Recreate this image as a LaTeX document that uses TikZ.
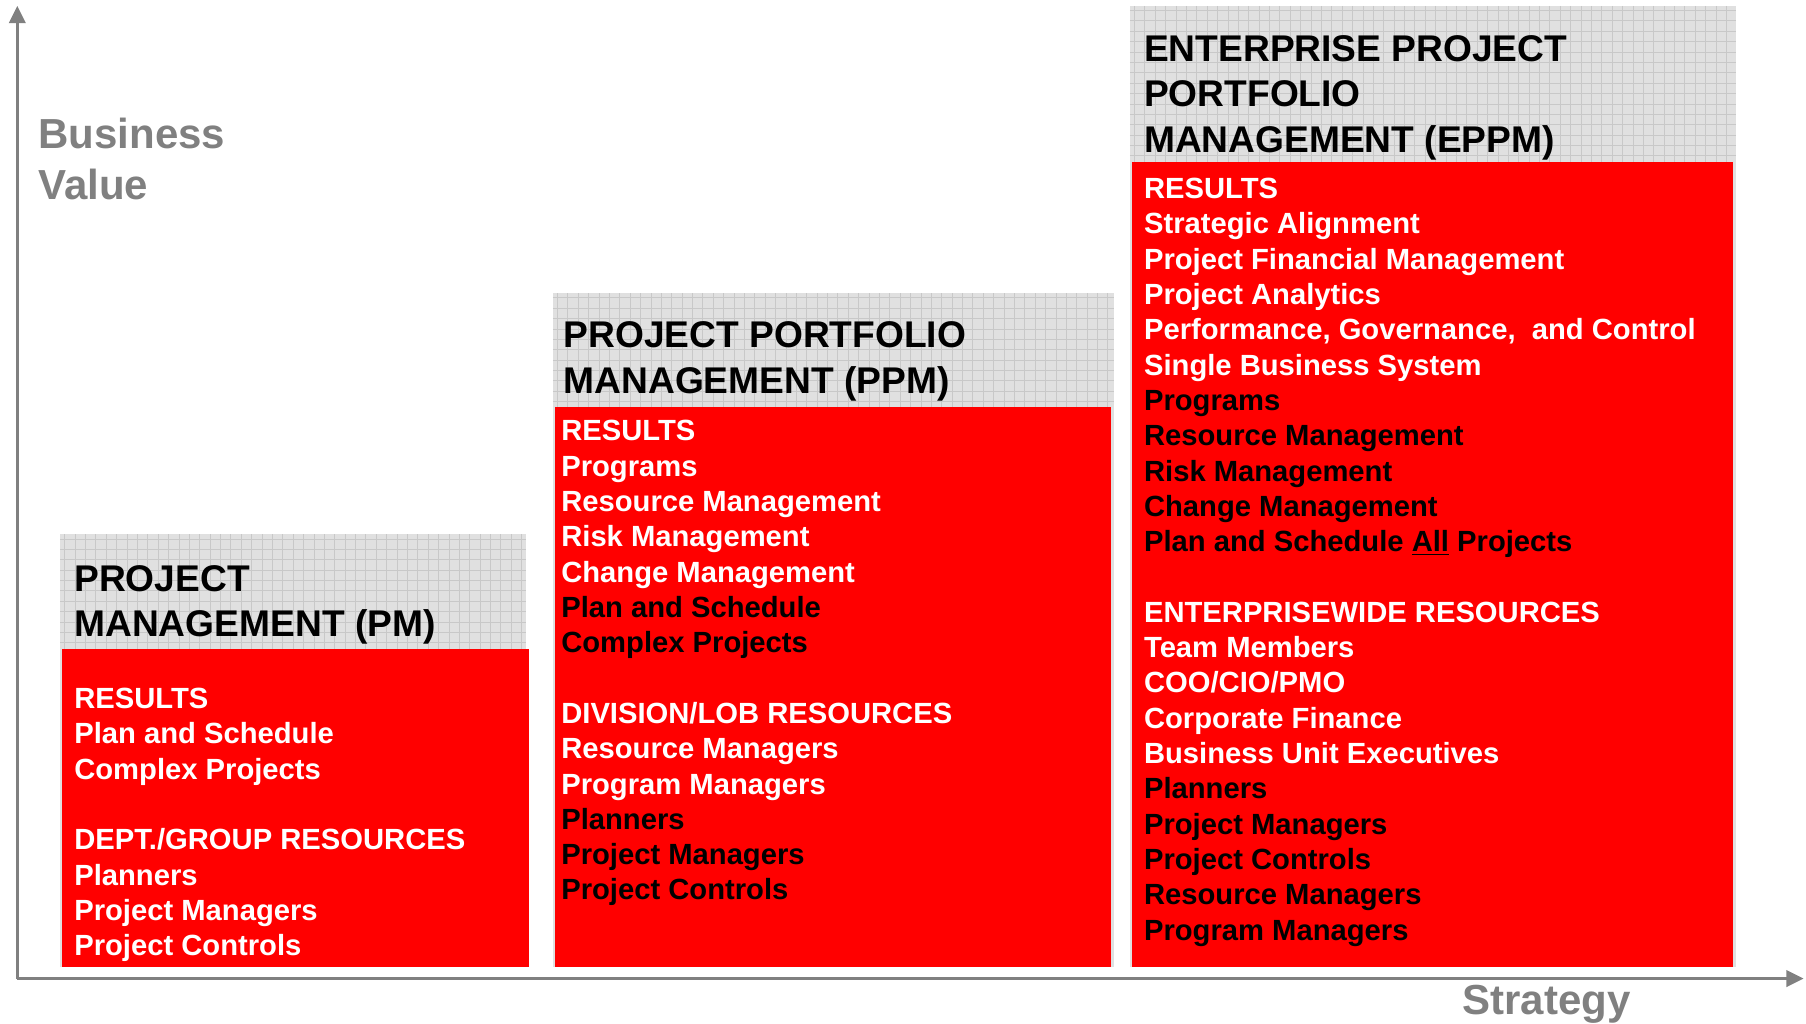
\documentclass[tikz,border=0pt]{standalone}
\usepackage{fontspec}
\setmainfont{Liberation Sans}
\usetikzlibrary{arrows.meta}

\definecolor{axisgray}{HTML}{808080}
\definecolor{hdrgray}{HTML}{E0E0E0}
\definecolor{gridgray}{HTML}{C8C8C8}
\definecolor{boxred}{HTML}{FF0000}

\newcommand{\carried}[1]{\textcolor{black}{#1}}

\tikzset{
  headtext/.style={anchor=north west, inner sep=0pt, align=left,
    font=\fontsize{16.1}{19.65}\selectfont\bfseries},
  itemtext/.style={anchor=north west, inner sep=0pt, align=left, text=white,
    font=\fontsize{12.65}{15.3}\selectfont\bfseries},
  axislabel/.style={inner sep=0pt, align=left, text=axisgray,
    font=\fontsize{18.2}{22}\selectfont\bfseries},
  axisline/.style={axisgray, line width=1.5pt, -{Triangle[length=7.5pt,width=7pt]}}
}

\begin{document}
\begin{tikzpicture}[x=0.5pt, y=-0.5pt]
	\useasboundingbox (0,0) rectangle (1565,886.5);

	% gray columns with a fine grid
	\fill[hdrgray] (52,463) rectangle (456,838);
	\fill[hdrgray] (479,254) rectangle (965,838);
	\fill[hdrgray] (979,5) rectangle (1504,838);
	\foreach \x in {56,65,...,452} \draw[gridgray, line width=0.3pt] (\x,463) -- (\x,562);
	\foreach \y in {467,476,...,560} \draw[gridgray, line width=0.3pt] (52,\y) -- (456,\y);
	\foreach \x in {483,492,...,961} \draw[gridgray, line width=0.3pt] (\x,254) -- (\x,353);
	\foreach \y in {258,267,...,351} \draw[gridgray, line width=0.3pt] (479,\y) -- (965,\y);
	\foreach \x in {983,992,...,1500} \draw[gridgray, line width=0.3pt] (\x,5) -- (\x,140);
	\foreach \y in {9,18,...,138} \draw[gridgray, line width=0.3pt] (979,\y) -- (1504,\y);

	% red result boxes
	\fill[boxred] (54,562) rectangle (458,838);
	\fill[boxred] (481,353) rectangle (963,838);
	\fill[boxred] (981,140) rectangle (1502,838);

	% headings
	\node[headtext] (pmhead) at (64,489.5) {PROJECT\\MANAGEMENT (PM)};
	\node[headtext] (ppmhead) at (488,278.5) {PROJECT PORTFOLIO\\MANAGEMENT (PPM)};
	\node[headtext] (eppmhead) at (991,30.5) {ENTERPRISE PROJECT\\PORTFOLIO\\MANAGEMENT (EPPM)};

	% results and resources
	\node[itemtext] (pmlist) at (64,596) {RESULTS\\Plan and Schedule\\Complex Projects\\[15.3pt]
		DEPT./GROUP RESOURCES\\Planners\\Project Managers\\Project Controls};
	\node[itemtext] (ppmlist) at (486,364) {RESULTS\\Programs\\Resource Management\\Risk Management\\Change Management\\
		\carried{Plan and Schedule}\\\carried{Complex Projects}\\[15.3pt]
		DIVISION/LOB RESOURCES\\Resource Managers\\Program Managers\\
		\carried{Planners}\\\carried{Project Managers}\\\carried{Project Controls}};
	\node[itemtext] (eppmlist) at (991,154) {RESULTS\\Strategic Alignment\\Project Financial Management\\Project Analytics\\
		Performance, Governance,\ \ and Control\\Single Business System\\
		\carried{Programs}\\\carried{Resource Management}\\\carried{Risk Management}\\\carried{Change Management}\\
		\carried{Plan and Schedule \underline{All} Projects}\\[15.3pt]
		ENTERPRISEWIDE RESOURCES\\Team Members\\COO/CIO/PMO\\Corporate Finance\\Business Unit Executives\\
		\carried{Planners}\\\carried{Project Managers}\\\carried{Project Controls}\\
		\carried{Resource Managers}\\\carried{Program Managers}};

	% axes
	\coordinate (origin) at (15,848);
	\coordinate (valuetip) at (15,5);
	\coordinate (strategytip) at (1563,848);
	\draw[axisline] (origin) -- (valuetip);
	\draw[axisline] (origin) -- (strategytip);
	\node[axislabel, anchor=north west] (value) at (33,102) {Business\\Value};
	\node[axislabel, anchor=base] (strategy) at (1340,879) {Strategy};
\end{tikzpicture}
\end{document}
